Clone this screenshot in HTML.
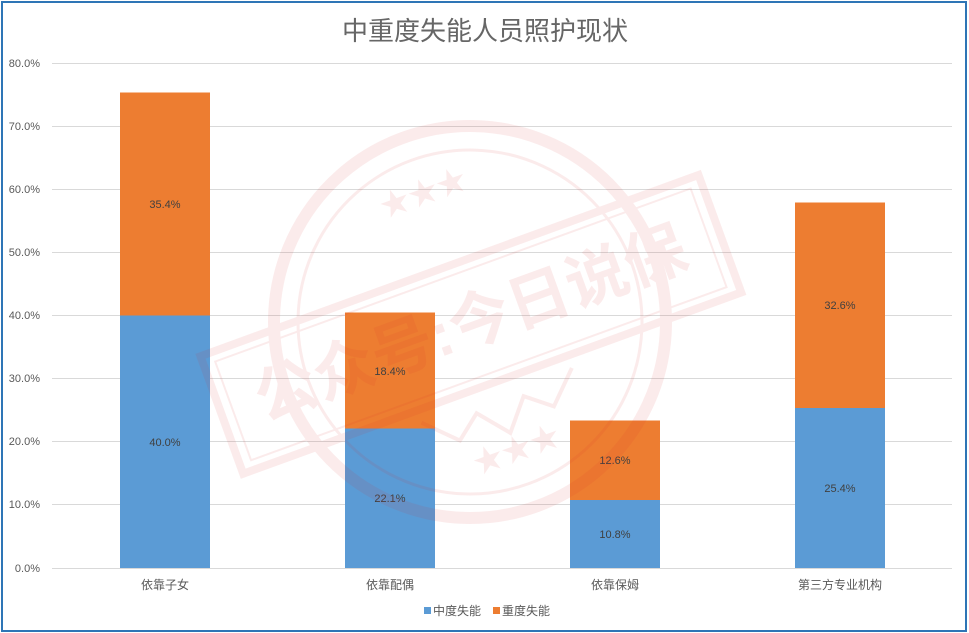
<!DOCTYPE html>
<html>
<head>
<meta charset="utf-8">
<style>
html,body{margin:0;padding:0;background:#fff;}
svg{display:block;}
text{font-family:"Liberation Sans","Noto Sans CJK SC",sans-serif;}
</style>
</head>
<body>
<svg width="969" height="633" viewBox="0 0 969 633" xmlns="http://www.w3.org/2000/svg">
<rect x="0" y="0" width="969" height="633" fill="#fff"/>
<!-- title -->
<text x="485" y="40" text-anchor="middle" font-size="26" fill="#666666">中重度失能人员照护现状</text>
<!-- gridlines -->
<g stroke="#D9D9D9" stroke-width="1">
<line x1="52" y1="63.5" x2="952" y2="63.5"/>
<line x1="52" y1="126.5" x2="952" y2="126.5"/>
<line x1="52" y1="189.5" x2="952" y2="189.5"/>
<line x1="52" y1="252.5" x2="952" y2="252.5"/>
<line x1="52" y1="315.5" x2="952" y2="315.5"/>
<line x1="52" y1="378.5" x2="952" y2="378.5"/>
<line x1="52" y1="441.5" x2="952" y2="441.5"/>
<line x1="52" y1="504.5" x2="952" y2="504.5"/>
<line x1="52" y1="568.5" x2="952" y2="568.5"/>
</g>
<!-- y labels -->
<g font-size="11" fill="#595959" text-anchor="end">
<text x="40" y="67">80.0%</text>
<text x="40" y="130">70.0%</text>
<text x="40" y="193">60.0%</text>
<text x="40" y="256">50.0%</text>
<text x="40" y="319">40.0%</text>
<text x="40" y="382">30.0%</text>
<text x="40" y="445">20.0%</text>
<text x="40" y="508">10.0%</text>
<text x="40" y="572">0.0%</text>
</g>
<!-- bars -->
<g>
<rect x="120" y="315.5" width="90" height="252.5" fill="#5B9BD5"/>
<rect x="120" y="92.5" width="90" height="223" fill="#ED7D31"/>
<rect x="345" y="428.5" width="90" height="139.5" fill="#5B9BD5"/>
<rect x="345" y="312.5" width="90" height="116" fill="#ED7D31"/>
<rect x="570" y="500" width="90" height="68" fill="#5B9BD5"/>
<rect x="570" y="420.5" width="90" height="79.5" fill="#ED7D31"/>
<rect x="795" y="408" width="90" height="160" fill="#5B9BD5"/>
<rect x="795" y="202.5" width="90" height="205.5" fill="#ED7D31"/>
</g>
<!-- data labels -->
<g font-size="11" fill="#404040" text-anchor="middle">
<text x="165" y="446">40.0%</text>
<text x="165" y="208">35.4%</text>
<text x="390" y="502">22.1%</text>
<text x="390" y="375">18.4%</text>
<text x="615" y="538">10.8%</text>
<text x="615" y="464">12.6%</text>
<text x="840" y="492">25.4%</text>
<text x="840" y="309">32.6%</text>
</g>
<!-- category labels -->
<g font-size="12" fill="#595959" text-anchor="middle">
<text x="165" y="589">依靠子女</text>
<text x="390" y="589">依靠配偶</text>
<text x="615" y="589">依靠保姆</text>
<text x="840" y="589">第三方专业机构</text>
</g>
<!-- legend -->
<rect x="424" y="607" width="7" height="7" fill="#5B9BD5"/>
<text x="433" y="615" font-size="12" fill="#595959">中度失能</text>
<rect x="493" y="607" width="7" height="7" fill="#ED7D31"/>
<text x="502" y="615" font-size="12" fill="#595959">重度失能</text>
<!-- watermark -->
<g opacity="0.09" transform="rotate(-20 470 322)">
<circle cx="470" cy="322" r="196" fill="none" stroke="#D83030" stroke-width="12"/>
<circle cx="470" cy="322" r="172" fill="none" stroke="#D83030" stroke-width="3"/>
<rect x="205" y="262" width="530" height="125" fill="none" stroke="#D83030" stroke-width="8"/>
<rect x="217" y="272" width="506" height="105" fill="none" stroke="#D83030" stroke-width="2"/>
<text x="470" y="345" text-anchor="middle" font-size="62" font-weight="bold" fill="#D83030">公众号:今日说保</text>
<text x="470" y="195" text-anchor="middle" font-size="30" fill="#D83030">★★★</text>
<text x="470" y="468" text-anchor="middle" font-size="30" fill="#D83030">★★★</text>
<path d="M390 400 L420 430 L445 410 L470 440 L495 410 L520 430 L550 400" fill="none" stroke="#D83030" stroke-width="4"/>
</g>
<!-- border -->
<rect x="2" y="2" width="964" height="629" fill="none" stroke="#2E75B6" stroke-width="2"/>
</svg>
</body>
</html>
